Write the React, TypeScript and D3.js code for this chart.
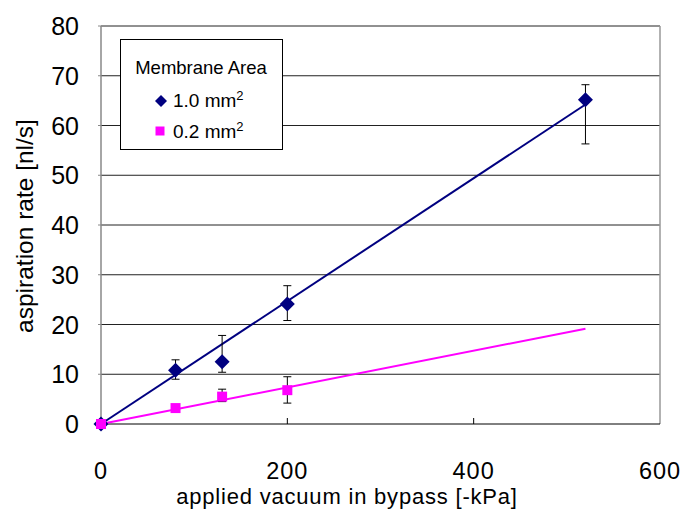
import React from 'react';
import * as d3 from 'd3';

// measured points: vacuum [-kPa] vs aspiration rate [nl/s]
const bigX = [0, 80, 130, 200, 520];
const bigY = [0, 10.8, 12.5, 24.1, 65.2];
const bigLo = [0, 9.0, 10.4, 20.8, 56.3];
const bigHi = [0, 12.9, 17.8, 27.8, 68.2];

const smallX = [0, 80, 130, 200];
const smallY = [0, 3.2, 5.5, 6.8];
const smallLo = [0, 3.2, 4.5, 4.2];
const smallHi = [0, 3.2, 7.0, 9.5];

const xTicks = [0, 200, 400, 600];
const yTicks = [0, 10, 20, 30, 40, 50, 60, 70, 80];
const trendEnd = 520;

// least squares line forced through the origin, like the spreadsheet trendline
const slopeOf = (xs: number[], ys: number[]) =>
  d3.sum(xs, (x, i) => x * ys[i]) / d3.sum(xs, x => x * x);

// square diamond (d3's symbolDiamond is too tall and thin)
const diamondPath = (r: number) => `M0,${-r}L${r},0L0,${r}L${-r},0Z`;
const squarePath = (r: number) => `M${-r},${-r}H${r}V${r}H${-r}Z`;

export default function App() {
  const width = 683, height = 511;
  const x = d3.scaleLinear().domain([0, 600]).range([101, 660]);
  const y = d3.scaleLinear().domain([0, 80]).range([424, 26]);

  const font = 'Arial, "Liberation Sans", sans-serif';
  const blue = '#000080';
  const pink = '#ff00ff';

  const bigSlope = slopeOf(bigX, bigY);
  const smallSlope = slopeOf(smallX, smallY);

  const errBar = (xv: number, lo: number, hi: number, key: string) => {
    if (hi - lo < 0.5) return null;
    const cx = x(xv);
    return (
      <g key={key} stroke="#000" strokeWidth={1}>
        <line x1={cx} x2={cx} y1={y(lo)} y2={y(hi)} />
        <line x1={cx - 4} x2={cx + 4} y1={y(lo)} y2={y(lo)} />
        <line x1={cx - 4} x2={cx + 4} y1={y(hi)} y2={y(hi)} />
      </g>
    );
  };

  return (
    <svg width={width} height={height} style={{ position: 'absolute', left: 0, top: 0 }}
      fontFamily={font}>
      <rect width={width} height={height} fill="#fff" />

      {/* grid */}
      {yTicks.filter(t => t > 0).map(t => (
        <line key={t} x1={x(0)} x2={x(600)} y1={y(t)} y2={y(t)} stroke="#222" strokeWidth={1} />
      ))}
      <line x1={x(600)} x2={x(600)} y1={y(80)} y2={y(0)} stroke="#999" strokeWidth={1.5} />
      <line x1={x(0)} x2={x(0)} y1={y(80)} y2={y(0)} stroke="#888" strokeWidth={1.5} />
      <line x1={x(0)} x2={x(600)} y1={y(0)} y2={y(0)} stroke="#000" strokeWidth={1} />
      {xTicks.filter(t => t > 0 && t < 600).map(t => (
        <line key={t} x1={x(t)} x2={x(t)} y1={y(0)} y2={y(0) - 6} stroke="#000" />
      ))}
      {yTicks.map(t => (
        <line key={'yt' + t} x1={x(0) - 3} x2={x(0)} y1={y(t)} y2={y(t)} stroke="#888" />
      ))}

      {/* axis labels */}
      {yTicks.map(t => (
        <text key={t} x={79} y={y(t)} dy="0.36em" textAnchor="end" fontSize={25}>{t}</text>
      ))}
      {xTicks.map(t => (
        <text key={t} x={x(t)} y={479} textAnchor="middle" fontSize={23.5} letterSpacing={1}>{t}</text>
      ))}
      <text x={347} y={504} textAnchor="middle" fontSize={22} letterSpacing={0.8}>applied vacuum in bypass [-kPa]</text>
      <text transform={`translate(33,${y(40) + 1}) rotate(-90)`} textAnchor="middle" fontSize={24.5}>
        aspiration rate [nl/s]
      </text>

      {/* trend lines */}
      <line x1={x(0)} y1={y(0)} x2={x(trendEnd)} y2={y(bigSlope * trendEnd)} stroke={blue} strokeWidth={2} />
      <line x1={x(0)} y1={y(0)} x2={x(trendEnd)} y2={y(smallSlope * trendEnd)} stroke={pink} strokeWidth={2} />

      {/* error bars */}
      {bigX.map((v, i) => errBar(v, bigLo[i], bigHi[i], 'b' + i))}
      {smallX.map((v, i) => errBar(v, smallLo[i], smallHi[i], 's' + i))}

      {/* markers */}
      {bigX.map((v, i) => (
        <path key={'bd' + i} d={diamondPath(7.5)} transform={`translate(${x(v)},${y(bigY[i])})`} fill={blue} />
      ))}
      {smallX.map((v, i) => (
        <path key={'sq' + i} d={squarePath(5)} transform={`translate(${x(v)},${y(smallY[i])})`} fill={pink} />
      ))}

      {/* legend */}
      <g>
        <rect x={120.5} y={39.5} width={162} height={110} fill="#fff" stroke="#000" strokeWidth={1} />
        <text x={201} y={74} textAnchor="middle" fontSize={18.5}>Membrane Area</text>
        <path d={diamondPath(6)} transform="translate(161,101)" fill={blue} />
        <text x={173} y={107} fontSize={19}>1.0 mm<tspan dy={-7} fontSize={13}>2</tspan></text>
        <path d={squarePath(4.5)} transform="translate(160,131)" fill={pink} />
        <text x={173} y={138} fontSize={19}>0.2 mm<tspan dy={-7} fontSize={13}>2</tspan></text>
      </g>
    </svg>
  );
}
